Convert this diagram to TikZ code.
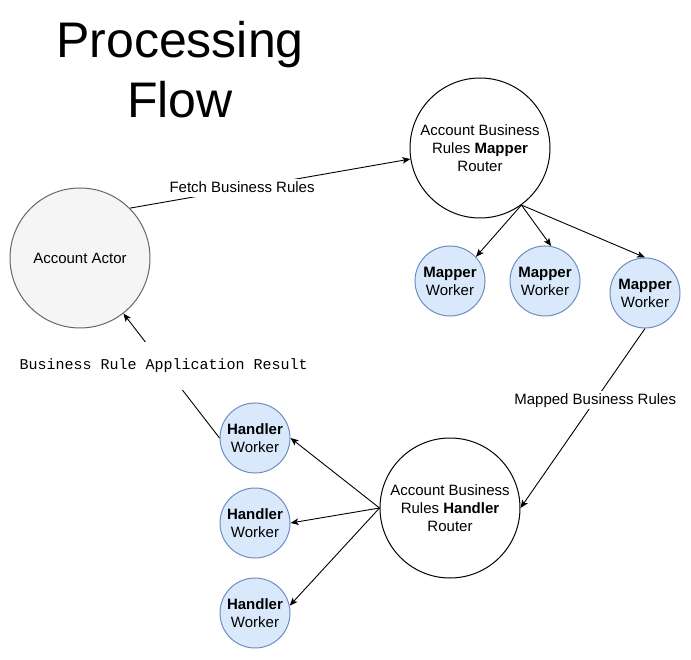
\documentclass[tikz,border=0pt]{standalone}
\usepackage{fontspec}
\setmainfont{Liberation Sans}
\setmonofont{Liberation Mono}
\usetikzlibrary{arrows.meta}
\definecolor{wfill}{RGB}{218,232,252}
\definecolor{wdraw}{RGB}{108,142,191}
\definecolor{afill}{RGB}{245,245,245}
\definecolor{adraw}{RGB}{102,102,102}
\begin{document}
\begin{tikzpicture}[x=1pt,y=-1pt,
  every node/.style={font=\fontsize{15}{18}\selectfont, align=center},
  bigc/.style={circle, draw=black, line width=1pt, minimum size=140pt, inner sep=0pt},
  actorc/.style={bigc, fill=afill, draw=adraw},
  workc/.style={circle, draw=wdraw, fill=wfill, line width=1pt, minimum size=70pt, inner sep=0pt},
  conn/.style={draw=black, line width=0.9pt, -{Stealth[length=8pt,width=6.5pt,inset=2pt]}},
  lbl/.style={fill=white, inner sep=1pt, minimum height=18pt, text depth=2pt}
]
\useasboundingbox (0,0) rectangle (691,660);

\node[font=\fontsize{50}{60}\selectfont] (title) at (180,70) {Processing\\Flow};

\node[actorc] (actor) at (80,258) {Account Actor};
\node[bigc, fill=white] (mrouter) at (480,148) {Account Business\\Rules \textbf{Mapper}\\Router};
\node[workc] (mw1) at (450,281) {\textbf{Mapper}\\Worker};
\node[workc] (mw2) at (545,281) {\textbf{Mapper}\\Worker};
\node[workc] (mw3) at (645,293) {\textbf{Mapper}\\Worker};
\node[bigc, fill=white] (hrouter) at (450,508) {Account Business\\Rules \textbf{Handler}\\Router};
\node[workc] (hw1) at (255,438) {\textbf{Handler}\\Worker};
\node[workc] (hw2) at (255,523) {\textbf{Handler}\\Worker};
\node[workc] (hw3) at (255,613) {\textbf{Handler}\\Worker};

\draw[conn] (actor.45) -- node[lbl, pos=0.40] (lfetch) {Fetch Business Rules} (mrouter.189);
\draw[conn] (mrouter.306) -- (mw1.43);
\draw[conn] (mrouter.306) -- (mw2.80);
\draw[conn] (mrouter.306) -- (mw3.90);
\draw[conn] (mw3.south) -- node[lbl, pos=0.40] (lmapped) {Mapped Business Rules} (hrouter.east);
\draw[conn] (hrouter.west) -- (hw1.east);
\draw[conn] (hrouter.west) -- (hw2.east);
\draw[conn] (hrouter.west) -- (hw3.12);
\draw[conn] (hw1.west) -- node[lbl, pos=0.58, minimum height=48pt, text depth=4pt, font=\ttfamily\fontsize{15}{18}\selectfont] (lresult) {Business Rule Application Result} (actor.308);
\end{tikzpicture}
\end{document}
